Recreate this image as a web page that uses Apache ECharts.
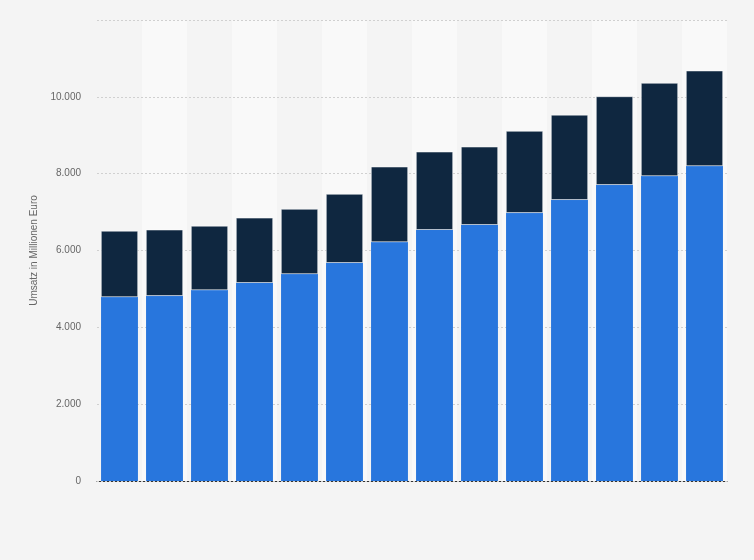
<!DOCTYPE html>
<html><head><meta charset="utf-8">
<script src="https://cdn.jsdelivr.net/npm/echarts@6/dist/echarts.min.js"></script>
<style>html,body{margin:0;background:#f4f4f4}#c{width:754px;height:560px}</style>
</head><body><div id="c"></div>
<script>
const categories = ['1','2','3','4','5','6','7','8','9','10','11','12','13','14'];
const blueValues = [4790, 4820, 4970, 5160, 5390, 5680, 6220, 6540, 6670, 6980, 7320, 7710, 7940, 8200];
const totalValues = [6510, 6540, 6640, 6850, 7080, 7470, 8180, 8570, 8700, 9110, 9530, 10010, 10360, 10680];
const darkValues = totalValues.map((t, i) => t - blueValues[i]);
const chart = echarts.init(document.getElementById('c'));
chart.setOption({
  backgroundColor: '#f4f4f4',
  grid: {left: 97, right: 27, top: 20, bottom: 79},
  xAxis: {type: 'category', data: categories, z: 0,
    axisLine: {lineStyle: {color: '#333'}}, axisTick: {show: false}, axisLabel: {show: false},
    splitArea: {show: true, areaStyle: {color: ['#f4f4f4', '#f9f9f9']}}},
  yAxis: {type: 'value', min: 0, max: 12000, interval: 2000, z: 1,
    name: 'Umsatz in Millionen Euro', nameLocation: 'middle', nameGap: 44,
    nameTextStyle: {color: '#666', fontSize: 10, fontFamily: 'Arial'},
    axisLabel: {color: '#666', fontSize: 10, fontFamily: 'Arial', margin: 16,
      formatter: v => v === 12000 ? '' : v.toString().replace(/\B(?=(\d{3})+(?!\d))/g, '.')},
    splitLine: {lineStyle: {color: '#d0d0d0', type: [2, 2]}}},
  series: [
    {type: 'bar', stack: 's', data: blueValues, barWidth: '82%', z: 2,
      itemStyle: {color: '#2876dd'}},
    {type: 'bar', stack: 's', data: darkValues, z: 2,
      itemStyle: {color: '#0f2740', borderColor: '#fff', borderWidth: 0.5}}
  ]
});
</script></body></html>
